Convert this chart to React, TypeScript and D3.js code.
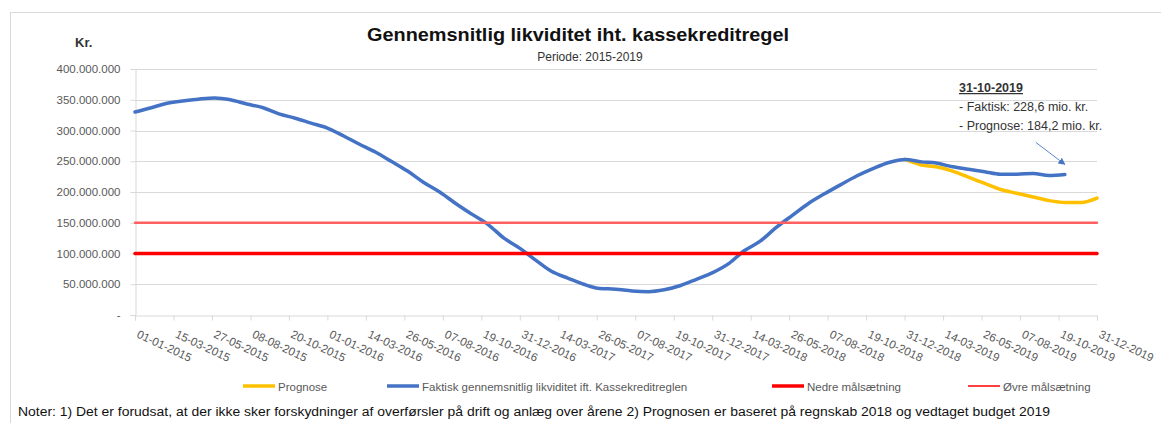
import React, { useEffect, useRef } from 'react';
import * as d3 from 'd3';

// Faktisk gennemsnitlig likviditet (mio. kr.), month by month
const faktiskDates = [
  '2015-01-01', '2015-02-01', '2015-03-01', '2015-04-01', '2015-05-01', '2015-06-01',
  '2015-07-01', '2015-08-01', '2015-09-01', '2015-10-01', '2015-11-01', '2015-12-01',
  '2016-01-01', '2016-02-01', '2016-03-01', '2016-04-01', '2016-05-01', '2016-06-01',
  '2016-07-01', '2016-08-01', '2016-09-01', '2016-10-01', '2016-11-01', '2016-12-01',
  '2017-01-01', '2017-02-01', '2017-03-01', '2017-04-01', '2017-05-01', '2017-06-01',
  '2017-07-01', '2017-08-01', '2017-09-01', '2017-10-01', '2017-11-01', '2017-12-01',
  '2018-01-01', '2018-02-01', '2018-03-01', '2018-04-01', '2018-05-01', '2018-06-01',
  '2018-07-01', '2018-08-01', '2018-09-01', '2018-10-01', '2018-11-01', '2018-12-01',
  '2019-01-01', '2019-02-01', '2019-03-01', '2019-04-01', '2019-05-01', '2019-06-01',
  '2019-07-01', '2019-08-01', '2019-09-01', '2019-10-01', '2019-10-31',
];
const faktiskValues = [
  330, 337, 344, 348, 351, 353, 350, 343, 337, 327, 320, 312,
  304, 291, 278, 265, 250, 234, 216, 200, 181, 164, 147, 125,
  108, 88, 71, 60, 50, 43, 42, 39, 38, 41, 48, 58,
  69, 84, 104, 120, 142, 162, 181, 197, 212, 226, 238, 248,
  253, 249, 247, 241, 237, 233, 229, 229, 230, 227, 228.6,
];

// Prognose (mio. kr.)
const prognoseDates = [
  '2019-01-01', '2019-02-01', '2019-03-01', '2019-04-01', '2019-05-01', '2019-06-01',
  '2019-07-01', '2019-08-01', '2019-09-01', '2019-10-01', '2019-11-01', '2019-12-01', '2019-12-31',
];
const prognoseValues = [253, 244, 241, 234, 224, 214, 204, 198, 192, 186, 183, 183, 190];

// Målsætninger (mio. kr.)
const targetDates = ['2015-01-01', '2019-12-31'];
const nedreValues = [100, 100];
const oevreValues = [150, 150];

const xTickLabels = [
  '01-01-2015', '15-03-2015', '27-05-2015', '08-08-2015', '20-10-2015',
  '01-01-2016', '14-03-2016', '26-05-2016', '07-08-2016', '19-10-2016',
  '31-12-2016', '14-03-2017', '26-05-2017', '07-08-2017', '19-10-2017',
  '31-12-2017', '14-03-2018', '26-05-2018', '07-08-2018', '19-10-2018',
  '31-12-2018', '14-03-2019', '26-05-2019', '07-08-2019', '19-10-2019', '31-12-2019',
];
const yTicks = [0, 50, 100, 150, 200, 250, 300, 350, 400];

const legendItems = [
  { label: 'Prognose', color: '#FFC000', width: 3.5, x: 243 },
  { label: 'Faktisk gennemsnitlig likviditet ift. Kassekreditreglen', color: '#4472C4', width: 3.5, x: 387 },
  { label: 'Nedre målsætning', color: '#FF0000', width: 3.5, x: 772 },
  { label: 'Øvre målsætning', color: '#FF0000', width: 1.5, x: 968 },
];

const W = 1161;
const H = 423;
const FONT = "'Liberation Sans', Arial, sans-serif";

const App: React.FC = () => {
  const svgRef = useRef<SVGSVGElement | null>(null);

  useEffect(() => {
    if (!svgRef.current) return;
    const svg = d3.select(svgRef.current);
    svg.selectAll('*').remove();

    const parseIso = d3.timeParse('%Y-%m-%d');
    const parseTick = d3.timeParse('%d-%m-%Y');

    const x = d3.scaleTime()
      .domain([parseIso('2015-01-01')!, parseIso('2019-12-31')!])
      .range([135, 1097]);
    const y = d3.scaleLinear().domain([0, 400]).range([315, 69]);

    const fmt = d3.formatLocale({ decimal: ',', thousands: '.', grouping: [3], currency: ['', ''] }).format(',');

    // chart frame
    svg.append('rect')
      .attr('x', 10.5).attr('y', 12.5)
      .attr('width', 1200).attr('height', 500)
      .attr('fill', 'none').attr('stroke', '#d9d9d9');

    // gridlines
    svg.append('g').selectAll('line')
      .data(yTicks.filter(d => d > 0))
      .join('line')
      .attr('x1', x.range()[0]).attr('x2', x.range()[1])
      .attr('y1', d => Math.round(y(d)) + 0.5).attr('y2', d => Math.round(y(d)) + 0.5)
      .attr('stroke', '#d9d9d9').attr('stroke-width', 1.2);

    // y axis
    const yAxis = svg.append('g')
      .attr('transform', `translate(${x.range()[0] + 0.5},0)`)
      .call(d3.axisLeft(y).tickValues(yTicks).tickSize(5).tickPadding(10)
        .tickFormat(d => (+d === 0 ? '-' : fmt(+d * 1e6))));
    yAxis.select('.domain').attr('stroke', '#d9d9d9');
    yAxis.selectAll('.tick line').attr('stroke', '#d9d9d9');
    yAxis.selectAll('.tick text')
      .attr('fill', '#595959').style('font-family', FONT).style('font-size', '11.5px');

    // x axis
    const tickDates = xTickLabels.map(s => parseTick(s)!);
    const xAxis = svg.append('g')
      .attr('transform', `translate(0,${y(0) + 0.5})`)
      .call(d3.axisBottom(x).tickValues(tickDates).tickSize(5).tickFormat(() => ''));
    xAxis.select('.domain').attr('stroke', '#d9d9d9');
    xAxis.selectAll('.tick line').attr('stroke', '#d9d9d9');

    svg.append('g').selectAll('text')
      .data(xTickLabels)
      .join('text')
      .attr('transform', d => `translate(${x(parseTick(d)!) + 1},${y(0) + 22}) rotate(25)`)
      .attr('fill', '#595959')
      .style('font-family', FONT).style('font-size', '11.5px')
      .text(d => d);

    const line = d3.line<[Date, number]>()
      .x(d => x(d[0]))
      .y(d => y(d[1]))
      .curve(d3.curveMonotoneX);

    const series = [
      { dates: prognoseDates, values: prognoseValues, color: '#FFC000', width: 3.5 },
      { dates: faktiskDates, values: faktiskValues, color: '#4472C4', width: 3.5 },
      { dates: targetDates, values: nedreValues, color: '#FF0000', width: 3.5 },
      { dates: targetDates, values: oevreValues, color: '#FF6060', width: 2.5 },
    ];
    series.forEach(s => {
      const pts: [Date, number][] = s.dates.map((d, i) => [parseIso(d)!, s.values[i]]);
      svg.append('path')
        .attr('d', line(pts))
        .attr('fill', 'none')
        .attr('stroke', s.color)
        .attr('stroke-width', s.width)
        .attr('stroke-linejoin', 'round')
        .attr('stroke-linecap', 'round');
    });

    // titles
    svg.append('text')
      .attr('x', 578).attr('y', 41)
      .attr('text-anchor', 'middle')
      .attr('textLength', 422).attr('lengthAdjust', 'spacingAndGlyphs')
      .style('font-family', FONT).style('font-size', '19px').style('font-weight', 'bold')
      .attr('fill', '#111')
      .text('Gennemsnitlig likviditet iht. kassekreditregel');
    svg.append('text')
      .attr('x', 590).attr('y', 61)
      .attr('text-anchor', 'middle')
      .style('font-family', FONT).style('font-size', '12px')
      .attr('fill', '#333')
      .text('Periode: 2015-2019');
    svg.append('text')
      .attr('x', 75).attr('y', 47)
      .style('font-family', FONT).style('font-size', '13px').style('font-weight', 'bold')
      .attr('fill', '#333')
      .text('Kr.');

    // annotation
    const lastDate = parseIso(faktiskDates[faktiskDates.length - 1])!;
    const lastVal = faktiskValues[faktiskValues.length - 1];
    const ann = svg.append('g').style('font-family', FONT).attr('fill', '#333');
    ann.append('text').attr('x', 959).attr('y', 92)
      .style('font-size', '12.5px').style('font-weight', 'bold')
      .style('text-decoration', 'underline')
      .text('31-10-2019');
    ann.append('text').attr('x', 959).attr('y', 111)
      .style('font-size', '12.5px')
      .text('- Faktisk: 228,6 mio. kr.');
    ann.append('text').attr('x', 959).attr('y', 130)
      .style('font-size', '12.5px')
      .text('- Prognose: 184,2 mio. kr.');

    svg.append('defs').append('marker')
      .attr('id', 'arr').attr('viewBox', '0 0 10 10')
      .attr('refX', 9).attr('refY', 5)
      .attr('markerWidth', 7).attr('markerHeight', 7)
      .attr('orient', 'auto')
      .append('path').attr('d', 'M0,0 L10,5 L0,10 Z').attr('fill', '#4472C4');
    const ax = x(lastDate);
    const ay = y(lastVal) - 10;
    svg.append('line')
      .attr('x1', ax - 29).attr('y1', ay - 22)
      .attr('x2', ax).attr('y2', ay)
      .attr('stroke', '#5b85d0').attr('stroke-width', 1)
      .attr('marker-end', 'url(#arr)');

    // legend
    const lg = svg.append('g').attr('transform', 'translate(0,386)');
    legendItems.forEach(it => {
      lg.append('line')
        .attr('x1', it.x).attr('x2', it.x + 32)
        .attr('y1', 0).attr('y2', 0)
        .attr('stroke', it.color).attr('stroke-width', it.width);
      lg.append('text')
        .attr('x', it.x + 35).attr('y', 4.5)
        .attr('fill', '#595959')
        .style('font-family', FONT).style('font-size', '11.5px')
        .text(it.label);
    });

    // notes
    svg.append('text')
      .attr('x', 18).attr('y', 416)
      .attr('textLength', 1032).attr('lengthAdjust', 'spacingAndGlyphs')
      .attr('fill', '#111')
      .style('font-family', FONT).style('font-size', '12px')
      .text('Noter: 1) Det er forudsat, at der ikke sker forskydninger af overførsler på drift og anlæg over årene 2) Prognosen er baseret på regnskab 2018 og vedtaget budget 2019');
  }, []);

  return (
    <svg
      ref={svgRef}
      width={W}
      height={H}
      style={{ position: 'absolute', left: 0, top: 0, background: '#fff' }}
    />
  );
};

export default App;
